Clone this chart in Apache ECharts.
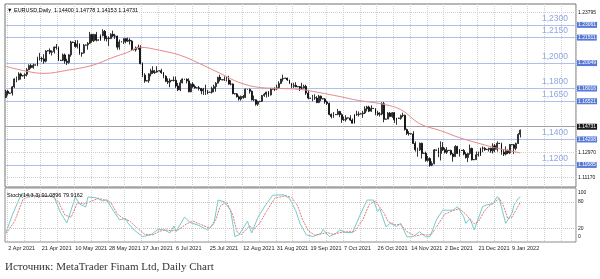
<!DOCTYPE html>
<html><head><meta charset="utf-8">
<script src="https://cdn.jsdelivr.net/npm/echarts@6/dist/echarts.min.js"></script>
<style>html,body{margin:0;padding:0;background:#fff}#c{width:600px;height:279px}</style>
</head><body><div id="c"></div>
<script>
// ---- data (EURUSD Daily) ----
const firstOpen = 1.1730;
const closes = [1.1778,1.1762,1.1765,1.1813,1.1875,1.1870,1.1915,1.1899,1.1902,1.1911,1.1947,1.1980,1.1965,1.1983,1.1986,1.2036,1.2035,1.2033,1.2015,1.2095,
1.2098,1.2085,1.2090,1.2126,1.2123,1.2020,1.2022,1.2064,1.2015,1.2005,1.2065,1.2165,1.2162,1.2130,1.2150,1.2075,1.2080,1.2140,1.2143,1.2155,
1.2225,1.2175,1.2225,1.2180,1.2182,1.2215,1.2250,1.2192,1.2193,1.2192,1.2226,1.2213,1.2212,1.2125,1.2166,1.2168,1.2192,1.2172,1.2180,1.2173,
1.2107,1.2105,1.2120,1.2125,1.1995,1.1905,1.1860,1.1862,1.1915,1.1940,1.1925,1.1930,1.1938,1.1940,1.1925,1.1896,1.1857,1.1850,1.1865,1.1863,
1.1865,1.1820,1.1790,1.1845,1.1875,1.1873,1.1860,1.1775,1.1835,1.1815,1.1805,1.1806,1.1800,1.1782,1.1795,1.1770,1.1770,1.1772,1.1800,1.1815,
1.1842,1.1888,1.1870,1.1868,1.1870,1.1867,1.1835,1.1835,1.1760,1.1758,1.1735,1.1718,1.1738,1.1730,1.1795,1.1793,1.1778,1.1712,1.1712,1.1677,
1.1697,1.1699,1.1745,1.1755,1.1772,1.1750,1.1795,1.1797,1.1797,1.1807,1.1840,1.1875,1.1880,1.1882,1.1868,1.1840,1.1818,1.1825,1.1813,1.1815,
1.1805,1.1805,1.1817,1.1765,1.1725,1.1723,1.1728,1.1725,1.1690,1.1740,1.1720,1.1718,1.1695,1.1683,1.1597,1.1580,1.1595,1.1597,1.1620,1.1595,
1.1555,1.1555,1.1570,1.1568,1.1552,1.1528,1.1595,1.1597,1.1600,1.1602,1.1608,1.1640,1.1655,1.1622,1.1645,1.1643,1.1608,1.1598,1.1600,1.1680,
1.1558,1.1560,1.1607,1.1580,1.1610,1.1555,1.1568,1.1566,1.1587,1.1590,1.1478,1.1447,1.1445,1.1443,1.1368,1.1320,1.1318,1.1370,1.1290,1.1292,
1.1235,1.1250,1.1198,1.1210,1.1318,1.1315,1.1290,1.1338,1.1320,1.1300,1.1315,1.1313,1.1285,1.1265,1.1345,1.1290,1.1315,1.1313,1.1285,1.1258,
1.1290,1.1330,1.1240,1.1242,1.1280,1.1280,1.1330,1.1330,1.1320,1.1322,1.1330,1.1310,1.1350,1.1323,1.1370,1.1368,1.1300,1.1285,1.1315,1.1295,
1.1360,1.1358,1.1330,1.1368,1.1440,1.14731];
const highs = [1.1790,1.1790,1.1768,1.1820,1.1880,1.1895,1.1928,1.1925,1.1905,1.1920,1.1960,1.1990,1.1995,1.1995,1.1990,1.2050,1.2080,1.2050,1.2070,1.2100,
1.2102,1.2115,1.2100,1.2130,1.2150,1.2130,1.2026,1.2075,1.2075,1.2035,1.2070,1.2175,1.2168,1.2180,1.2180,1.2155,1.2085,1.2150,1.2146,1.2165,
1.2245,1.2230,1.2230,1.2245,1.2186,1.2225,1.2266,1.2260,1.2215,1.2210,1.2235,1.2255,1.2230,1.2215,1.2185,1.2172,1.2195,1.2195,1.2200,1.2195,
1.2180,1.2110,1.2130,1.2145,1.2140,1.2005,1.1920,1.1866,1.1920,1.1955,1.1975,1.1945,1.1975,1.1944,1.1955,1.1930,1.1905,1.1880,1.1880,1.1867,
1.1895,1.1895,1.1845,1.1868,1.1880,1.1877,1.1880,1.1880,1.1840,1.1850,1.1830,1.1810,1.1820,1.1805,1.1805,1.1830,1.1790,1.1775,1.1815,1.1830,
1.1850,1.1892,1.1908,1.1872,1.1895,1.1895,1.1900,1.1865,1.1840,1.1762,1.1765,1.1745,1.1745,1.1750,1.1800,1.1797,1.1800,1.1785,1.1745,1.1715,
1.1705,1.1703,1.1750,1.1765,1.1775,1.1780,1.1805,1.1800,1.1810,1.1830,1.1857,1.1875,1.1909,1.1885,1.1885,1.1870,1.1845,1.1845,1.1850,1.1818,
1.1820,1.1845,1.1830,1.1830,1.1790,1.1726,1.1750,1.1755,1.1740,1.1750,1.1745,1.1722,1.1725,1.1705,1.1690,1.1605,1.1615,1.1600,1.1640,1.1625,
1.1605,1.1580,1.1590,1.1572,1.1590,1.1565,1.1600,1.1625,1.1620,1.1606,1.1625,1.1660,1.1665,1.1665,1.1668,1.1647,1.1645,1.1625,1.1615,1.1692,
1.1695,1.1564,1.1615,1.1615,1.1615,1.1615,1.1570,1.1570,1.1595,1.1610,1.1595,1.1485,1.1465,1.1447,1.1465,1.1385,1.1335,1.1375,1.1375,1.1296,
1.1305,1.1270,1.1260,1.1228,1.1325,1.1319,1.1335,1.1385,1.1380,1.1335,1.1340,1.1317,1.1320,1.1295,1.1355,1.1350,1.1325,1.1317,1.1325,1.1300,
1.1295,1.1360,1.1335,1.1246,1.1305,1.1305,1.1335,1.1345,1.1340,1.1326,1.1335,1.1335,1.1370,1.1365,1.1385,1.1372,1.1375,1.1325,1.1345,1.1320,
1.1365,1.1362,1.1365,1.1375,1.1450,1.14778];
const lows = [1.1725,1.1745,1.1758,1.1745,1.1805,1.1850,1.1865,1.1870,1.1895,1.1875,1.1895,1.1945,1.1955,1.1955,1.1980,1.1975,1.2020,1.2010,1.1995,1.2005,
1.2092,1.2070,1.2060,1.2075,1.2105,1.2015,1.2016,1.2015,1.1995,1.1985,1.1995,1.2050,1.2158,1.2120,1.2115,1.2065,1.2050,1.2075,1.2138,1.2105,
1.2150,1.2160,1.2165,1.2170,1.2176,1.2175,1.2210,1.2175,1.2170,1.2135,1.2190,1.2205,1.2190,1.2105,1.2105,1.2162,1.2150,1.2155,1.2165,1.2145,
1.2095,1.2100,1.2090,1.2105,1.1990,1.1890,1.1845,1.1856,1.1845,1.1895,1.1915,1.1915,1.1925,1.1935,1.1915,1.1880,1.1850,1.1835,1.1810,1.1858,
1.1855,1.1805,1.1780,1.1780,1.1840,1.1868,1.1840,1.1770,1.1770,1.1805,1.1800,1.1802,1.1785,1.1755,1.1750,1.1750,1.1755,1.1768,1.1760,1.1770,
1.1775,1.1840,1.1855,1.1864,1.1860,1.1855,1.1830,1.1825,1.1755,1.1752,1.1730,1.1705,1.1705,1.1720,1.1725,1.1789,1.1760,1.1705,1.1700,1.1665,
1.1664,1.1695,1.1695,1.1735,1.1730,1.1735,1.1745,1.1793,1.1780,1.1790,1.1800,1.1835,1.1855,1.1878,1.1860,1.1835,1.1800,1.1805,1.1810,1.1811,
1.1780,1.1790,1.1800,1.1750,1.1715,1.1719,1.1700,1.1710,1.1685,1.1685,1.1700,1.1714,1.1680,1.1670,1.1590,1.1565,1.1570,1.1593,1.1590,1.1575,
1.1530,1.1545,1.1540,1.1564,1.1545,1.1525,1.1525,1.1585,1.1580,1.1598,1.1570,1.1600,1.1620,1.1615,1.1618,1.1639,1.1590,1.1585,1.1580,1.1590,
1.1535,1.1556,1.1560,1.1575,1.1570,1.1530,1.1515,1.1562,1.1555,1.1575,1.1470,1.1435,1.1430,1.1439,1.1365,1.1305,1.1265,1.1310,1.1250,1.1288,
1.1225,1.1225,1.1186,1.1190,1.1205,1.1311,1.1260,1.1235,1.1310,1.1290,1.1285,1.1309,1.1275,1.1225,1.1265,1.1285,1.1265,1.1309,1.1275,1.1250,
1.1222,1.1280,1.1235,1.1238,1.1245,1.1265,1.1270,1.1300,1.1310,1.1318,1.1305,1.1295,1.1290,1.1300,1.1305,1.1364,1.1280,1.1270,1.1275,1.1285,
1.1285,1.1354,1.1285,1.1315,1.1365,1.14153];
// moving average (red): [bar, price]
const maPoints = [[0,1.1974],[10,1.1935],[18,1.1919],[29,1.1943],[41,1.1982],[51,1.2045],[58,1.2085],[64,1.2124],[73,1.2101],[83,1.2061],
[92,1.1998],[102,1.1919],[111,1.1848],[121,1.1808],[130,1.1801],[140,1.1793],[149,1.1769],[159,1.1737],[168,1.1706],[178,1.1682],
[188,1.1635],[197,1.1524],[207,1.1469],[216,1.1414],[226,1.1366],[235,1.1327],[245,1.1295]];
// Stochastic %K and %D: [bar, value]
const stochK = [[0,11],[3,50],[7,95],[11,96],[16,92],[21,94],[23,90],[26,55],[29,32],[33,91],[35,75],[38,68],[39,91],[43,89],[46,82],[48,85],[50,68],
[54,39],[57,42],[58,32],[61,16],[65,1],[69,5],[72,16],[75,18],[78,9],[80,25],[81,12],[85,45],[88,32],[91,28],[96,16],[99,30],[101,84],[104,80],
[107,60],[109,1],[111,5],[115,36],[117,9],[120,45],[123,68],[127,95],[132,96],[135,88],[138,60],[140,31],[143,5],[146,1],[150,8],[151,17],[154,1],
[157,8],[159,16],[162,10],[165,10],[169,54],[172,84],[175,84],[177,58],[178,65],[181,23],[183,31],[186,24],[188,31],[191,0],[194,1],[197,12],
[200,0],[202,1],[205,39],[208,61],[213,61],[215,69],[218,46],[219,31],[221,42],[223,16],[227,69],[229,73],[232,76],[234,92],[235,86],[238,31],
[241,54],[242,73],[244,88],[245,91.09]];
const stochD = [[0,8],[4,35],[8,85],[12,95],[17,93],[22,92],[25,80],[28,50],[31,45],[34,78],[37,75],[40,80],[44,88],[47,84],[50,78],[53,52],[56,42],
[59,36],[62,22],[66,6],[70,5],[73,13],[76,16],[79,14],[82,16],[86,30],[89,36],[92,30],[97,20],[100,40],[102,70],[105,80],[108,50],[110,12],[112,5],
[116,25],[118,18],[121,32],[124,58],[128,88],[133,94],[136,90],[139,70],[141,42],[144,14],[147,4],[151,8],[153,10],[156,6],[159,10],[163,12],
[166,12],[170,40],[173,74],[176,82],[178,68],[180,55],[182,35],[185,28],[188,28],[191,12],[195,2],[198,6],[201,4],[203,8],[206,30],[209,52],
[214,62],[216,64],[219,52],[221,40],[223,30],[225,35],[228,60],[230,70],[233,80],[235,88],[237,70],[239,42],[241,45],[243,62],[245,79.92]];
const dateLabels = ['2 Apr 2021','21 Apr 2021','10 May 2021','28 May 2021','17 Jun 2021','6 Jul 2021','25 Jul 2021','12 Aug 2021',
'31 Aug 2021','19 Sep 2021','7 Oct 2021','26 Oct 2021','14 Nov 2021','2 Dec 2021','21 Dec 2021','9 Jan 2022'];
const priceTicks = [1.23795,1.21995,1.20195,1.18395,1.16570,1.14770,1.12970,1.11170];
const levelValues = [1.23061,1.21511,1.20049,1.18016,1.16521,1.14208,1.11685];
const levelNames = ['1,2300','1,2150','1,2000','1,1800','1,1650','1,1400','1,1200'];
const lastPrice = 1.14731;
const stochLevels = [100,80,20,0];
const titleText = '\u25BC EURUSD,Daily  1.14400 1.14778 1.14153 1.14731';
const stochText = 'Stoch(14,3,3) 91.0896 79.9162';
const caption = 'Источник: MetaTrader Finam Ltd, Daily Chart';

// ---- chart ----
const slotCount = 272;
const slots = Array.from({length: slotCount}, (_, i) => String(i));
const candles = closes.map((c, i) => [i === 0 ? firstOpen : closes[i - 1], c, lows[i], highs[i]]);
const labelStep = 16, gridStep = 8, labelStart = 1;
const NARROW = '"Liberation Sans Narrow","Liberation Sans",Arial,sans-serif';
const LEVEL_BLUE = '#afc0ee';

const tickLines = priceTicks.map(v => ({yAxis: v,
  lineStyle: {color: '#cdcdcd', type: 'dotted', width: 1},
  label: {show: true, position: 'end', distance: 2, formatter: v.toFixed(5), color: '#111', fontSize: 5, fontFamily: NARROW}}));
const levelLines = levelValues.map(v => ({yAxis: v,
  lineStyle: {color: LEVEL_BLUE, type: 'solid', width: 1.2},
  label: {show: true, position: 'end', distance: 1, formatter: v.toFixed(5), color: '#fff', backgroundColor: '#5879d6',
          padding: [1, 1, 0, 1], fontSize: 5, fontFamily: NARROW}}));
const levelTexts = levelValues.map((v, k) => ({yAxis: v,
  lineStyle: {color: LEVEL_BLUE, type: 'solid', width: 1.2},
  label: {show: true, position: 'insideEndTop', distance: 2, formatter: levelNames[k], color: '#8ea6e2',
          padding: [0, 6, 0, 0], fontSize: 8.5, fontFamily: NARROW}}));
const priceLine = [{yAxis: lastPrice,
  lineStyle: {color: '#a0a0a0', type: 'solid', width: 1},
  label: {show: true, position: 'end', distance: 1, formatter: lastPrice.toFixed(5), color: '#fff', backgroundColor: '#1a1a1a',
          padding: [1, 1, 0, 1], fontSize: 5, fontFamily: NARROW}}];
const stochLines = stochLevels.map(v => ({yAxis: v,
  lineStyle: {color: (v === 80 || v === 20) ? '#c4c4c4' : 'rgba(0,0,0,0)', type: 'dotted', width: 1},
  label: {show: true, position: 'end', distance: 2, formatter: String(v), color: '#111', fontSize: 5, fontFamily: NARROW}}));

const xCommon = {type: 'category', data: slots, boundaryGap: true,
  axisLine: {show: false}, axisTick: {show: false},
  splitLine: {show: true, interval: (i) => (i - labelStart) % gridStep === 0, lineStyle: {color: '#d2d2d2', type: 'dotted', width: 1}}};

const chart = echarts.init(document.getElementById('c'), null, {renderer: 'canvas'});
chart.setOption({
  animation: false,
  backgroundColor: '#ffffff',
  title: [
    {text: titleText, left: 7, top: 7, padding: 0, textStyle: {fontSize: 5.5, fontWeight: 'normal', color: '#000', fontFamily: NARROW}},
    {text: stochText, left: 7, top: 192, padding: 0, textStyle: {fontSize: 5.5, fontWeight: 'normal', color: '#000', fontFamily: NARROW}},
    {text: caption, left: 5, top: 262, padding: 0, textStyle: {fontSize: 11, fontWeight: 'normal', color: '#333', fontFamily: '"Liberation Serif","Times New Roman",serif'}}
  ],
  grid: [
    {left: 5, right: 24, top: 4, height: 183, show: true, borderColor: '#707070', borderWidth: 1, backgroundColor: '#fff'},
    {left: 5, right: 24, top: 188, height: 54, show: true, borderColor: '#8c8c8c', borderWidth: 1, backgroundColor: '#fff'}
  ],
  xAxis: [
    Object.assign({}, xCommon, {gridIndex: 0, axisLabel: {show: false}}),
    Object.assign({}, xCommon, {gridIndex: 1, axisLabel: {show: true, interval: (i) => (i - labelStart) % labelStep === 0 && (i - labelStart) / labelStep < dateLabels.length,
      formatter: (val, i) => dateLabels[(i - labelStart) / labelStep] || '', align: 'left', margin: 3,
      fontSize: 5.5, color: '#222', fontFamily: NARROW}})
  ],
  yAxis: [
    {type: 'value', gridIndex: 0, min: 1.10265, max: 1.24641, position: 'right', axisLine: {show: false}, axisTick: {show: false}, axisLabel: {show: false}, splitLine: {show: false}},
    {type: 'value', gridIndex: 1, min: -11.4, max: 111.4, position: 'right', axisLine: {show: false}, axisTick: {show: false}, axisLabel: {show: false}, splitLine: {show: false}}
  ],
  series: [
    {type: 'candlestick', xAxisIndex: 0, yAxisIndex: 0, data: candles, barWidth: 1.4, z: 3,
     itemStyle: {color: '#ffffff', color0: '#000000', borderColor: '#000000', borderColor0: '#000000', borderWidth: 0.8},
     markLine: {silent: true, symbol: 'none', animation: false, z: 2, data: [].concat(tickLines, levelTexts, levelLines, priceLine)}},
    {type: 'line', xAxisIndex: 0, yAxisIndex: 0, data: maPoints, smooth: 0.4, showSymbol: false, z: 4,
     lineStyle: {color: '#e58a86', width: 1}},
    {type: 'line', xAxisIndex: 1, yAxisIndex: 1, data: stochK, showSymbol: false, z: 4,
     lineStyle: {color: '#74cccc', width: 1},
     markLine: {silent: true, symbol: 'none', animation: false, data: stochLines}},
    {type: 'line', xAxisIndex: 1, yAxisIndex: 1, data: stochD, showSymbol: false, z: 4,
     lineStyle: {color: '#e07a7a', width: 1, type: [2, 1]}}
  ]
});
</script></body></html>
